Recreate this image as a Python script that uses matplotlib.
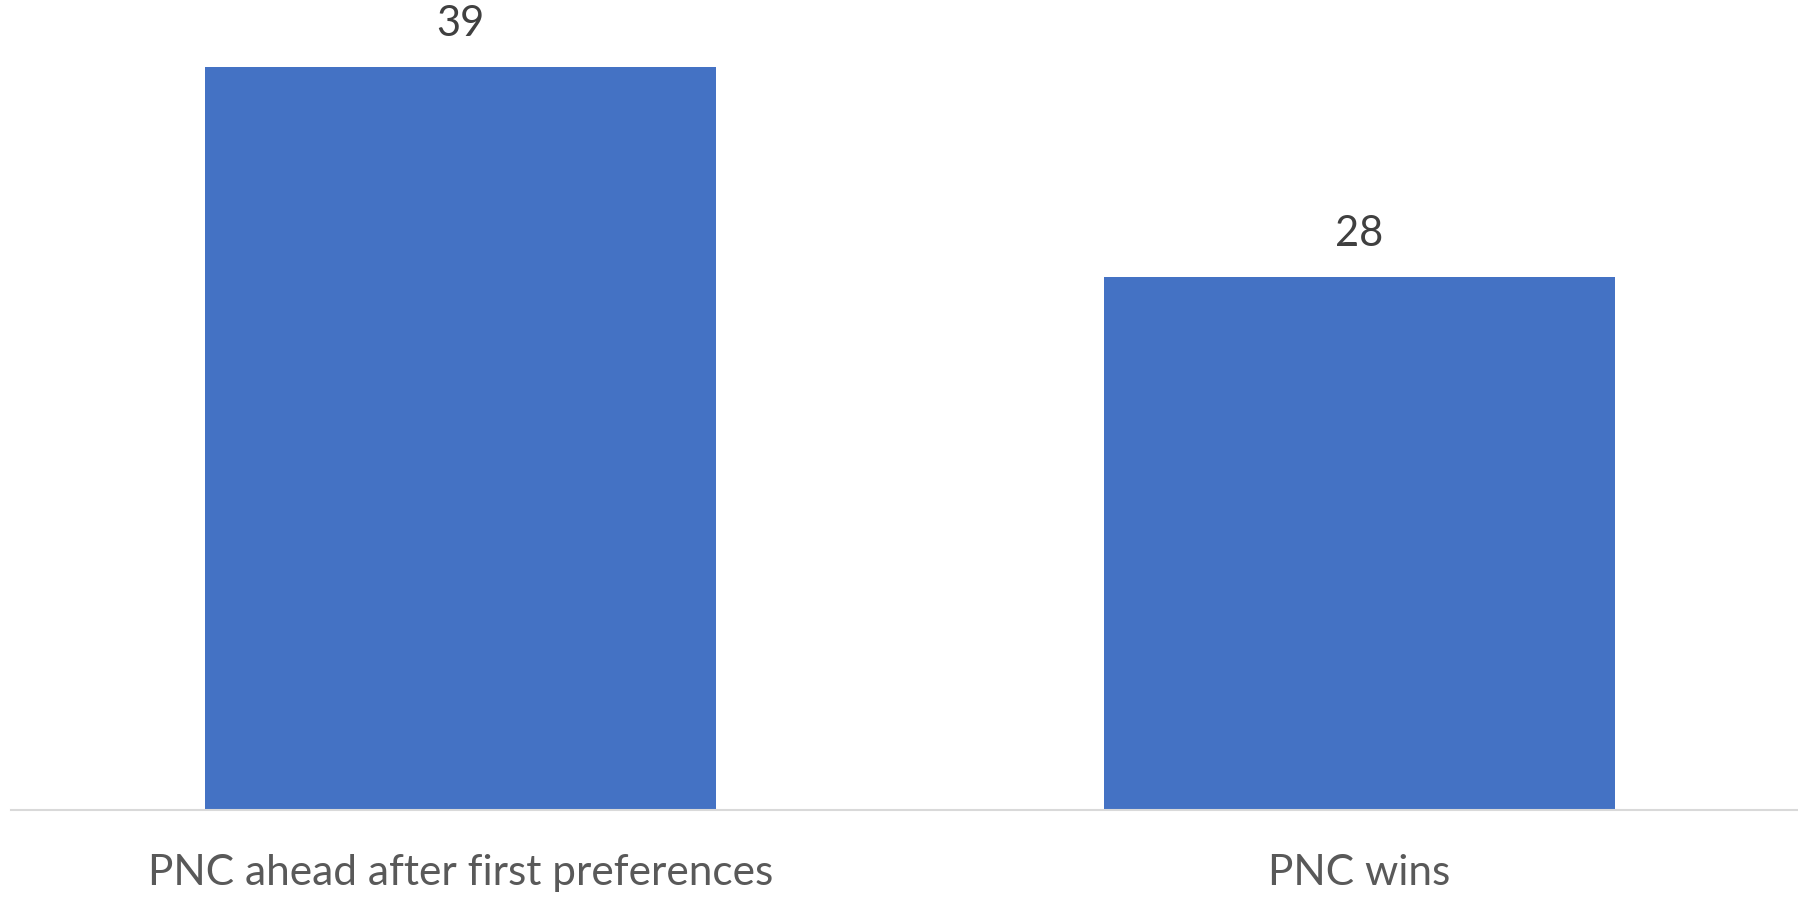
import matplotlib
matplotlib.use('Agg')
from matplotlib import pyplot as plt

# data
categories = ['PNC ahead after first preferences', 'PNC wins']
values = [39, 28]

plt.rcParams['font.family'] = ['Lato', 'DejaVu Sans']

W, H = 1798, 898
fig = plt.figure(figsize=(W / 100, H / 100), dpi=100)
# axes placed in pixel terms: baseline at y=810, left edge 11
ax = fig.add_axes([11 / W, (H - 810) / H, (1797 - 11) / W, 800 / H])

x = range(len(categories))
bars = ax.bar(x, values, width=0.568, color='#4472C4')
ax.set_xlim(-0.4999, 1.4868)
ax.set_ylim(0, 42)

for b, v in zip(bars, values):
    ax.annotate(str(v), (b.get_x() + b.get_width() / 2, v), xytext=(0, 24),
                textcoords='offset pixels', ha='center', va='bottom',
                fontsize=30, color='#404040')

ax.set_xticks(list(x))
ax.set_xticklabels(categories, fontsize=30.5, color='#595959')
ax.tick_params(axis='x', length=0, pad=32)
ax.set_yticks([])
for s in ['top', 'right', 'left']:
    ax.spines[s].set_visible(False)
ax.spines['bottom'].set_color('#D9D9D9')
ax.spines['bottom'].set_linewidth(1.5)

fig.savefig('out.png', dpi=100)
